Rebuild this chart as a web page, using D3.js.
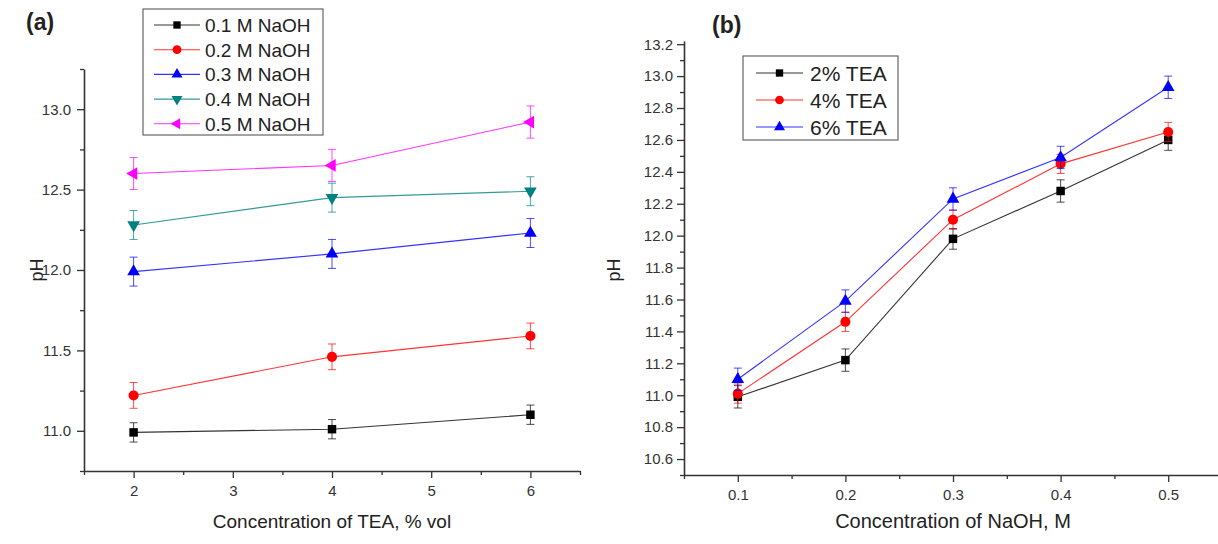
<!DOCTYPE html>
<html>
<head>
<meta charset="utf-8">
<script src="https://cdn.jsdelivr.net/npm/d3@7"></script>
<style>
  body { margin: 0; background: #fff; }
  svg text { font-family: "Liberation Sans", Arial, sans-serif; fill: #222; }
</style>
</head>
<body>
<svg id="chart" width="1218" height="544"></svg>
<script>
// ---- panel (a): pH vs TEA, one series per NaOH concentration ----
var teaLevels = [2, 4, 6];
var naohLabels = ["0.1 M NaOH", "0.2 M NaOH", "0.3 M NaOH", "0.4 M NaOH", "0.5 M NaOH"];
var phNaoh01 = [10.99, 11.01, 11.10];
var phNaoh02 = [11.22, 11.46, 11.59];
var phNaoh03 = [11.99, 12.10, 12.23];
var phNaoh04 = [12.28, 12.45, 12.49];
var phNaoh05 = [12.60, 12.65, 12.92];
var errNaoh01 = [0.06, 0.06, 0.06];
var errNaoh02 = [0.08, 0.08, 0.08];
var errNaoh03 = [0.09, 0.09, 0.09];
var errNaoh04 = [0.09, 0.09, 0.09];
var errNaoh05 = [0.10, 0.10, 0.10];
var xTicksA = [2, 3, 4, 5, 6];
var xMinorA = [1.5, 2.5, 3.5, 4.5, 5.5, 6.5];
var yTicksA = [11.0, 11.5, 12.0, 12.5, 13.0];
var yMinorA = [10.75, 11.25, 11.75, 12.25, 12.75, 13.25];

// ---- panel (b): pH vs NaOH, one series per TEA content ----
var naohLevels = [0.1, 0.2, 0.3, 0.4, 0.5];
var teaLabels = ["2% TEA", "4% TEA", "6% TEA"];
var phTea2 = [10.99, 11.22, 11.98, 12.28, 12.60];
var phTea4 = [11.01, 11.46, 12.10, 12.45, 12.65];
var phTea6 = [11.10, 11.59, 12.23, 12.49, 12.93];
var errTea2 = [0.07, 0.07, 0.065, 0.07, 0.065];
var errTea4 = [0.06, 0.06, 0.06, 0.06, 0.06];
var errTea6 = [0.07, 0.07, 0.07, 0.07, 0.07];
var xTicksB = [0.1, 0.2, 0.3, 0.4, 0.5];
var xMinorB = [0.05, 0.15, 0.25, 0.35, 0.45, 0.55];
var yTicksB = [10.6, 10.8, 11.0, 11.2, 11.4, 11.6, 11.8, 12.0, 12.2, 12.4, 12.6, 12.8, 13.0, 13.2];
var yMinorB = [10.5, 10.7, 10.9, 11.1, 11.3, 11.5, 11.7, 11.9, 12.1, 12.3, 12.5, 12.7, 12.9, 13.1];

var svg = d3.select("#chart");

var shapes = {
    square: { type: d3.symbolSquare, size: 72, rotate: 0 },
    circle: { type: d3.symbolCircle, size: 80, rotate: 0 },
    up:     { type: d3.symbolTriangle, size: 70, rotate: 0 },
    down:   { type: d3.symbolTriangle, size: 70, rotate: 180 },
    left:   { type: d3.symbolTriangle, size: 70, rotate: -90 }
};

function marker(g, shape, x, y, color, scale) {
    var s = shapes[shape];
    g.append("path")
        .attr("d", d3.symbol().type(s.type).size(s.size * (scale || 1))())
        .attr("transform", "translate(" + x + "," + y + ") rotate(" + s.rotate + ")")
        .attr("fill", color);
}

function drawAxes(x, y, xt, xm, yt, ym, xfmt, yfmt, ypad) {
    var x0 = x.range()[0], y0 = y.range()[0];
    var gx = svg.append("g").attr("transform", "translate(0," + y0 + ")");
    gx.call(d3.axisBottom(x).tickValues(xm).tickSize(4).tickSizeOuter(0).tickFormat(""));
    gx.select(".domain").remove();
    var gx2 = svg.append("g").attr("transform", "translate(0," + y0 + ")");
    gx2.call(d3.axisBottom(x).tickValues(xt).tickSize(7).tickPadding(7).tickSizeOuter(0).tickFormat(xfmt));
    var gy = svg.append("g").attr("transform", "translate(" + x0 + ",0)");
    gy.call(d3.axisLeft(y).tickValues(ym).tickSize(4).tickSizeOuter(0).tickFormat(""));
    gy.select(".domain").remove();
    var gy2 = svg.append("g").attr("transform", "translate(" + x0 + ",0)");
    gy2.call(d3.axisLeft(y).tickValues(yt).tickSize(7).tickPadding(ypad).tickSizeOuter(0).tickFormat(yfmt));
    svg.selectAll(".domain").attr("stroke", "#333").attr("stroke-width", 1.6);
    svg.selectAll(".tick line").attr("stroke", "#333").attr("stroke-width", 1.3);
    svg.selectAll(".tick text").style("font-size", "15px").style("fill", "#333");
}

function drawSeries(x, y, xs, series) {
    series.forEach(function(s) {
        var pts = xs.map(function(v, i) { return [v, s.values[i], s.errors[i]]; });
        var g = svg.append("g");
        g.append("path")
            .attr("d", d3.line().x(function(d) { return x(d[0]); }).y(function(d) { return y(d[1]); })(pts))
            .attr("fill", "none")
            .attr("stroke", s.color)
            .attr("stroke-width", 1.1)
            .attr("stroke-opacity", 0.8);
        pts.forEach(function(d) {
            var cx = x(d[0]);
            g.append("line")
                .attr("x1", cx).attr("x2", cx)
                .attr("y1", y(d[1] - d[2])).attr("y2", y(d[1] + d[2]))
                .attr("stroke", s.color).attr("stroke-width", 1).attr("stroke-opacity", 0.7);
            [d[1] - d[2], d[1] + d[2]].forEach(function(v) {
                g.append("line")
                    .attr("x1", cx - 4).attr("x2", cx + 4)
                    .attr("y1", y(v)).attr("y2", y(v))
                    .attr("stroke", s.color).attr("stroke-width", 1).attr("stroke-opacity", 0.7);
            });
            marker(g, s.shape, cx, y(d[1]), s.color);
        });
    });
}

function drawLegend(box, rows, fontSize) {
    svg.append("rect")
        .attr("x", box.x).attr("y", box.y).attr("width", box.w).attr("height", box.h)
        .attr("fill", "#fff").attr("stroke", "#666").attr("stroke-width", 1.2);
    rows.forEach(function(s, i) {
        var cy = box.first + i * box.step;
        svg.append("line")
            .attr("x1", box.lx0).attr("x2", box.lx1).attr("y1", cy).attr("y2", cy)
            .attr("stroke", s.color).attr("stroke-width", 1.1).attr("stroke-opacity", 0.8);
        marker(svg, s.shape, (box.lx0 + box.lx1) / 2, cy, s.color, 0.75);
        svg.append("text")
            .attr("x", box.tx).attr("y", cy)
            .attr("dy", "0.36em")
            .style("font-size", fontSize + "px")
            .text(s.label);
    });
}

// ---------- panel (a) ----------
var xA = d3.scaleLinear().domain([1.5, 6.5]).range([84, 580]);
var yA = d3.scaleLinear().domain([10.75, 13.25]).range([471, 69]);
drawAxes(xA, yA, xTicksA, xMinorA, yTicksA, yMinorA, d3.format("d"), d3.format(".1f"), 6);

var seriesA = [
    { label: naohLabels[0], values: phNaoh01, errors: errNaoh01, color: "#000000", shape: "square" },
    { label: naohLabels[1], values: phNaoh02, errors: errNaoh02, color: "#ff0000", shape: "circle" },
    { label: naohLabels[2], values: phNaoh03, errors: errNaoh03, color: "#0000ff", shape: "up" },
    { label: naohLabels[3], values: phNaoh04, errors: errNaoh04, color: "#008080", shape: "down" },
    { label: naohLabels[4], values: phNaoh05, errors: errNaoh05, color: "#ff00ff", shape: "left" }
];
drawSeries(xA, yA, teaLevels, seriesA);
drawLegend({ x: 143, y: 9, w: 180, h: 126, first: 25, step: 24.7, lx0: 154, lx1: 200, tx: 205 }, seriesA, 19);

svg.append("text").attr("x", 26).attr("y", 30)
    .style("font-size", "23px").style("font-weight", "bold").text("(a)");
svg.append("text").attr("x", (xA.range()[0] + xA.range()[1]) / 2).attr("y", 528)
    .attr("text-anchor", "middle").style("font-size", "19px").text("Concentration of TEA, % vol");
svg.append("text").attr("transform", "translate(43,270) rotate(-90)")
    .attr("text-anchor", "middle").style("font-size", "18px").text("pH");

// ---------- panel (b) ----------
var xB = d3.scaleLinear().domain([0.05, 0.55]).range([684, 1222]);
var yB = d3.scaleLinear().domain([10.5, 13.22]).range([475, 41]);
drawAxes(xB, yB, xTicksB, xMinorB, yTicksB, yMinorB, d3.format(".1f"), d3.format(".1f"), 4);

var seriesB = [
    { label: teaLabels[0], values: phTea2, errors: errTea2, color: "#000000", shape: "square" },
    { label: teaLabels[1], values: phTea4, errors: errTea4, color: "#ff0000", shape: "circle" },
    { label: teaLabels[2], values: phTea6, errors: errTea6, color: "#0000ff", shape: "up" }
];
drawSeries(xB, yB, naohLevels, seriesB);
drawLegend({ x: 743, y: 56, w: 155, h: 84, first: 73, step: 27, lx0: 756, lx1: 803, tx: 810 }, seriesB, 21);

svg.append("text").attr("x", 712).attr("y", 33)
    .style("font-size", "23px").style("font-weight", "bold").text("(b)");
svg.append("text").attr("x", (xB(0.05) + xB(0.55)) / 2).attr("y", 528)
    .attr("text-anchor", "middle").style("font-size", "20px").text("Concentration of NaOH, M");
svg.append("text").attr("transform", "translate(620,270) rotate(-90)")
    .attr("text-anchor", "middle").style("font-size", "18px").text("pH");
</script>
</body>
</html>
